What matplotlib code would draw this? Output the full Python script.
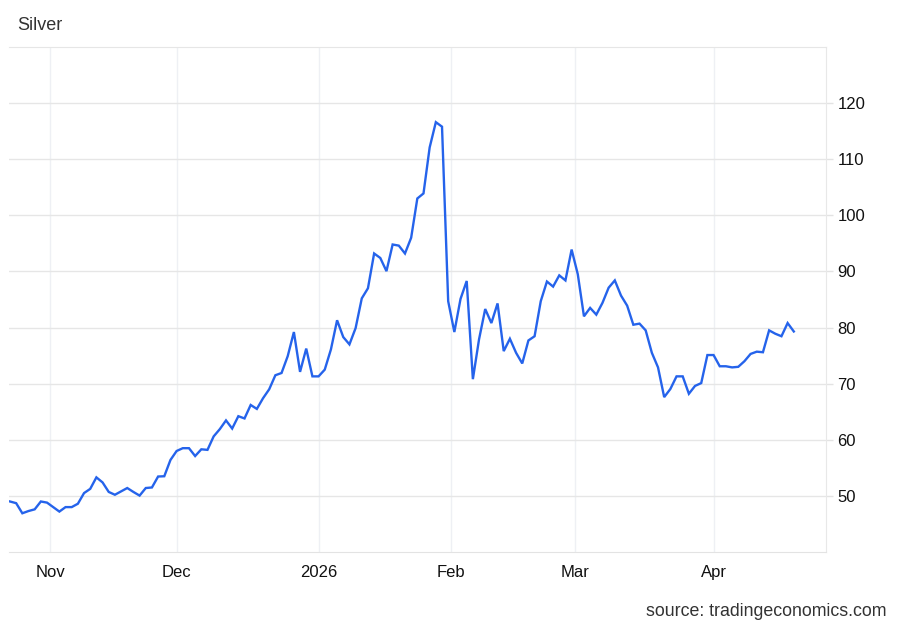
from matplotlib import pyplot as plt
import numpy as np
import pandas as pd

plt.rcParams['font.family'] = ['Liberation Sans', 'DejaVu Sans']

# daily closes, business days from 23 Oct 2025 to 20 Apr 2026
dates = pd.bdate_range('2025-10-23', '2026-04-20')
price = [
    49.0, 48.7, 46.9, 47.3, 47.6, 49.0, 48.8, 48.0, 47.2, 48.0,
    48.0, 48.6, 50.5, 51.25, 53.3, 52.4, 50.7, 50.2, 50.8, 51.4,
    50.7, 50.05, 51.4, 51.5, 53.45, 53.5, 56.4, 58.0, 58.5, 58.5,
    57.1, 58.3, 58.2, 60.6, 61.9, 63.45, 62.0, 64.2, 63.8, 66.2,
    65.5, 67.4, 69.0, 71.5, 71.9, 74.9, 79.2, 72.1, 76.25, 71.3,
    71.3, 72.5, 76.1, 81.3, 78.3, 77.0, 79.9, 85.2, 87.0, 93.2,
    92.4, 90.05, 94.8, 94.6, 93.2, 96.0, 103.0, 103.9, 112.1, 116.6,
    115.8, 84.7, 79.2, 85.1, 88.3, 70.8, 77.9, 83.3, 80.8, 84.3,
    75.8, 78.0, 75.5, 73.6, 77.7, 78.45, 84.7, 88.2, 87.3, 89.3,
    88.4, 93.9, 89.5, 82.0, 83.5, 82.3, 84.4, 87.1, 88.4, 85.7,
    83.9, 80.5, 80.7, 79.5, 75.5, 72.9, 67.6, 69.05, 71.3, 71.3,
    68.2, 69.6, 70.1, 75.1, 75.1, 73.1, 73.1, 72.9, 73.0, 74.0,
    75.3, 75.7, 75.6, 79.5, 78.9, 78.45, 80.8, 79.3,
]
month_starts = ['2025-11-01', '2025-12-01', '2026-01-01', '2026-02-01', '2026-03-01', '2026-04-01']
month_labels = ['Nov', 'Dec', '2026', 'Feb', 'Mar', 'Apr']
y_ticks = [50, 60, 70, 80, 90, 100, 110, 120]

x = np.arange(len(dates))
tick_pos = []
for m in month_starts:
    d = pd.Timestamp(m)
    p = dates.searchsorted(d)
    if d.weekday() >= 5:
        p -= 0.5
    tick_pos.append(p)

fig = plt.figure(figsize=(9, 6.24), dpi=100)
ax = fig.add_axes([0.01, 0.1154, 0.908, 0.8093])

ax.plot(x, price, color='#2563eb', lw=1.7, solid_joinstyle='miter')

ax.set_xlim(-0.16, 132.25)
ax.set_ylim(40, 130)
ax.set_xticks(tick_pos)
ax.set_xticklabels(month_labels)
ax.set_yticks(y_ticks)

ax.yaxis.tick_right()
ax.tick_params(axis='y', length=5, width=1, color='#e3e3e3', pad=3, labelsize=12, labelcolor='#111111')
ax.tick_params(axis='x', length=0, pad=9.5, labelsize=12, labelcolor='#111111')

ax.grid(axis='y', color='#e6e6e6', lw=1)
ax.grid(axis='x', color='#eef0f4', lw=1)
ax.set_axisbelow(True)

ax.spines['left'].set_visible(False)
ax.spines['top'].set_color('#e6e6e6')
ax.spines['bottom'].set_color('#e3e3e3')
ax.spines['right'].set_color('#e8e8e8')

fig.text(17 / 900, 1 - 26 / 624, 'Silver', fontsize=13, color='#333333', va='center', ha='left')
fig.text(887 / 900, 1 - 612 / 624, 'source: tradingeconomics.com', fontsize=12.8, color='#333333',
         va='center', ha='right')

plt.savefig('out.png', dpi=100)
